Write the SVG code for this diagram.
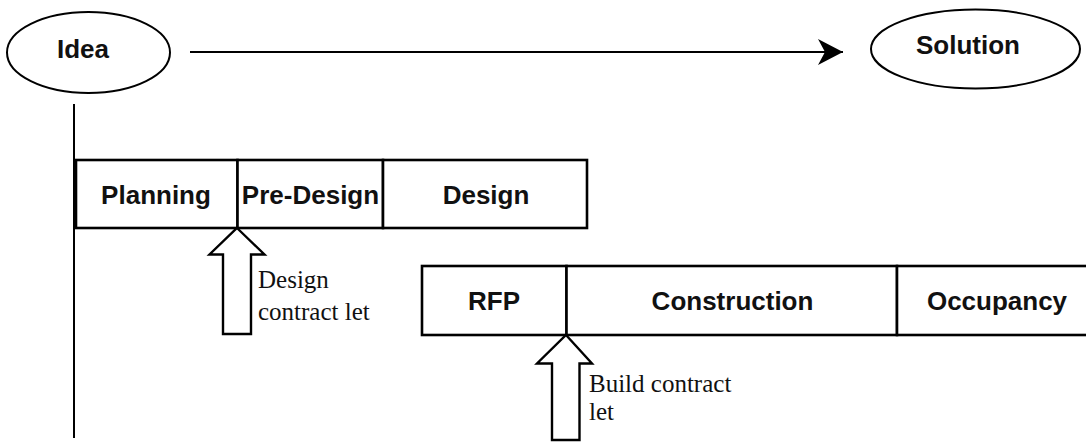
<svg xmlns="http://www.w3.org/2000/svg" width="1086" height="443" viewBox="0 0 1086 443">
<style>
.bg{fill:#ffffff}
.ell{fill:#ffffff;stroke:#000;stroke-width:2}
.box{fill:#ffffff;stroke:#000;stroke-width:2.6}
.ln{fill:none;stroke:#000;stroke-width:2}
.blk{fill:#ffffff;stroke:#000;stroke-width:2.4;stroke-linejoin:miter}
.lbl{font-family:"Liberation Sans",Arial,sans-serif;font-weight:bold;font-size:26px;fill:#111;text-anchor:middle}
.note{font-family:"Liberation Serif","Times New Roman",serif;font-size:25px;fill:#111}
</style>
<defs>
<marker id="ah" markerUnits="userSpaceOnUse" markerWidth="30" markerHeight="30" refX="25" refY="14" orient="auto">
<path d="M25,14 L0,1 L7,14 L0,27 Z" fill="#000"/>
</marker>
</defs>
<rect class="bg" x="0" y="0" width="1086" height="443"/>
<g id="connectors">
<line class="ln" x1="190" y1="52" x2="843" y2="52" marker-end="url(#ah)"/>
<line class="ln" x1="74" y1="104" x2="74" y2="438"/>
</g>
<g id="idea">
<ellipse class="ell" cx="88.5" cy="52.5" rx="81.5" ry="40.5"/>
<text class="lbl" x="83" y="58">Idea</text>
</g>
<g id="solution">
<ellipse class="ell" cx="975.5" cy="49" rx="104.5" ry="39.5"/>
<text class="lbl" x="968" y="54">Solution</text>
</g>
<g id="planning">
<rect class="box" x="76" y="160" width="161.5" height="68"/>
<text class="lbl" x="156" y="204">Planning</text>
</g>
<g id="pre-design">
<rect class="box" x="237.5" y="160" width="145.5" height="68"/>
<text class="lbl" x="310.5" y="204">Pre-Design</text>
</g>
<g id="design">
<rect class="box" x="383" y="160" width="204" height="68"/>
<text class="lbl" x="486" y="204">Design</text>
</g>
<g id="rfp">
<rect class="box" x="422" y="266" width="144.5" height="69"/>
<text class="lbl" x="494" y="310">RFP</text>
</g>
<g id="construction">
<rect class="box" x="566.5" y="266" width="330.5" height="69"/>
<text class="lbl" x="732.5" y="310">Construction</text>
</g>
<g id="occupancy">
<rect class="box" x="897" y="266" width="200" height="69"/>
<text class="lbl" x="997" y="310">Occupancy</text>
</g>
<g id="design-contract-let">
<path class="blk" d="M237,228 L264.5,254.5 L251,254.5 L251,334 L223,334 L223,254.5 L209.5,254.5 Z"/>
<text class="note" x="258" y="288">Design</text>
<text class="note" x="258" y="320">contract let</text>
</g>
<g id="build-contract-let">
<path class="blk" d="M566,335 L592,363.5 L579.5,363.5 L579.5,440 L552,440 L552,363.5 L537,363.5 Z"/>
<text class="note" x="589" y="392">Build contract</text>
<text class="note" x="589" y="420">let</text>
</g>
</svg>
